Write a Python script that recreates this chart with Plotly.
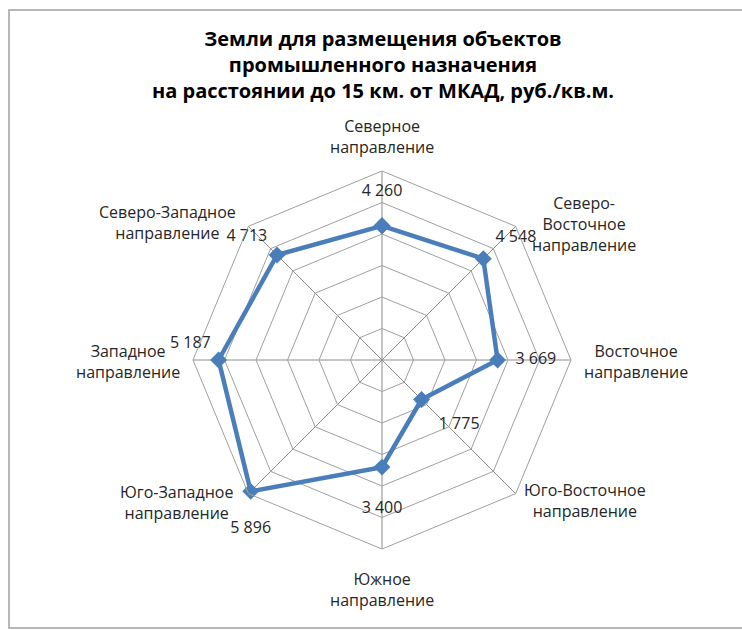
import math
import plotly.graph_objects as go

# Directions, clockwise from north
directions = [
    "Северное направление",
    "Северо-Восточное направление",
    "Восточное направление",
    "Юго-Восточное направление",
    "Южное направление",
    "Юго-Западное направление",
    "Западное направление",
    "Северо-Западное направление",
]
direction_labels = [
    "Северное<br>направление",
    "Северо-<br>Восточное<br>направление",
    "Восточное<br>направление",
    "Юго-Восточное<br>направление",
    "Южное<br>направление",
    "Юго-Западное<br>направление",
    "Западное<br>направление",
    "Северо-Западное<br>направление",
]
# Price, rub. per sq. m
prices = [4260, 4548, 3669, 1775, 3400, 5896, 5187, 4713]

R_MAX = 6000

# Value-label placement around each point (text side + spacing marker size)
value_label_pos = ["top center", "top right", "middle right", "bottom right",
                   "bottom center", "bottom center", "top left", "top left"]
value_label_gap = [40, 18, 27, 26, 53, 46, 11, 14]

# Direction-label anchoring at each outer vertex: (xanchor, yanchor, xshift, yshift)
dir_label_style = [
    ("center", "bottom", 0, 11),
    ("left", "middle", 14, 2),
    ("left", "middle", 11, -1),
    ("left", "middle", 6, -7),
    ("center", "top", 0, -17),
    ("right", "middle", -13, -9),
    ("right", "middle", -11, -1),
    ("right", "middle", -10, 4),
]


def fmt(v):
    return f"{v:,}".replace(",", " ")


LINE_COLOR = "#4a7ebb"
RING_COLOR = "#a0a0a0"
SPOKE_COLOR = "#8c8c8c"
TEXT_COLOR = "#262626"
FONT = "Open Sans"

W, H = 742, 630
cx, cy, R = 382, 360, 189          # polar centre and outer radius, px
dom_x = [(cx - R) / W, (cx + R) / W]
dom_y = [(H - cy - R) / H, (H - cy + R) / H]

fig = go.Figure()

# Series line with diamond markers (closed polygon)
fig.add_trace(go.Scatterpolar(
    r=prices + prices[:1],
    theta=directions + directions[:1],
    mode="lines+markers",
    line=dict(color=LINE_COLOR, width=4.5),
    marker=dict(symbol="diamond", size=13, color=LINE_COLOR),
    hoverinfo="skip",
    showlegend=False,
))

# Value labels
fig.add_trace(go.Scatterpolar(
    r=prices,
    theta=directions,
    mode="markers+text",
    marker=dict(size=value_label_gap, opacity=0, color=LINE_COLOR),
    text=[fmt(v) for v in prices],
    textposition=value_label_pos,
    textfont=dict(family=FONT, size=16, color=TEXT_COLOR),
    hoverinfo="skip",
    showlegend=False,
    cliponaxis=False,
))

# Direction labels placed just outside the outer octagon vertices
annotations = []
n = len(directions)
for i, (lab, (xa, ya, xs, ys)) in enumerate(zip(direction_labels, dir_label_style)):
    ang = math.pi / 2 - 2 * math.pi * i / n
    vx = (cx + R * math.cos(ang)) / W
    vy = (H - cy + R * math.sin(ang)) / H
    annotations.append(dict(
        x=vx, y=vy, xref="paper", yref="paper",
        text=lab, showarrow=False, align="center",
        xanchor=xa, yanchor=ya, xshift=xs, yshift=ys,
        font=dict(family=FONT, size=16, color=TEXT_COLOR),
    ))

fig.update_layout(
    width=W, height=H,
    margin=dict(l=0, r=0, t=0, b=0),
    paper_bgcolor="white",
    plot_bgcolor="white",
    title=dict(
        text="<b>Земли для размещения объектов<br>промышленного назначения<br>"
             "на расстоянии до 15 км. от МКАД, руб./кв.м.</b>",
        x=383 / W, xanchor="center",
        y=1 - 46 / H, yanchor="top",
        font=dict(family=FONT, size=20, color="#000000"),
    ),
    annotations=annotations,
    polar=dict(
        domain=dict(x=dom_x, y=dom_y),
        bgcolor="white",
        gridshape="linear",
        radialaxis=dict(
            range=[0, R_MAX], dtick=1000,
            showticklabels=False, ticks="",
            showline=False,
            gridcolor=RING_COLOR, gridwidth=1,
            angle=90,
        ),
        angularaxis=dict(
            direction="clockwise", rotation=90,
            type="category",
            categoryarray=directions,
            showticklabels=False, ticks="",
            showline=True, linecolor=RING_COLOR, linewidth=1,
            gridcolor=SPOKE_COLOR, gridwidth=1,
        ),
    ),
    shapes=[dict(
        type="rect", xref="paper", yref="paper",
        x0=9 / W, x1=1.01, y0=2 / H, y1=1 - 10 / H,
        line=dict(color="#a0a0a0", width=1.5),
        fillcolor="rgba(0,0,0,0)",
    )],
)

fig.write_html("out.html")
